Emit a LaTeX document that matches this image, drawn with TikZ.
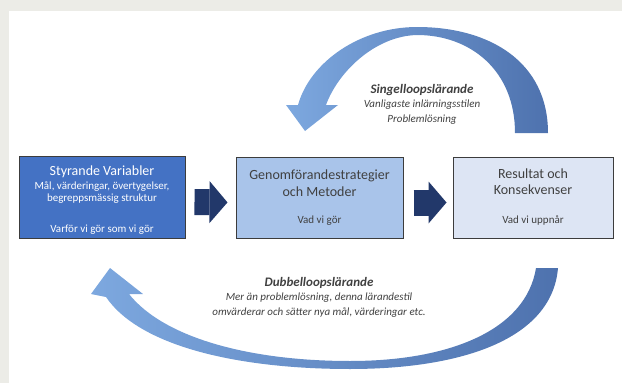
\documentclass[tikz,border=0pt]{standalone}
\usepackage{fontspec}
\setmainfont{Carlito}
\usetikzlibrary{arrows.meta}

\definecolor{frameGrey}{RGB}{236,236,231}
\definecolor{varBlue}{RGB}{68,114,196}
\definecolor{metBlue}{RGB}{169,196,234}
\definecolor{resBlue}{RGB}{221,229,244}
\definecolor{navy}{RGB}{34,56,106}
\definecolor{loopLight}{RGB}{125,168,223}
\definecolor{loopDark}{RGB}{78,114,174}
\definecolor{txtGrey}{RGB}{64,64,64}
\definecolor{edgeGrey}{RGB}{60,60,60}

\newcommand\boxtitle{\fontsize{14}{16}\selectfont}
\newcommand\boxsub{\fontsize{11}{12}\selectfont}
\newcommand\loopfont{\fontsize{11}{14.5}\selectfont\itshape}
\newcommand\loophead{\fontsize{13}{14.5}\selectfont\bfseries\itshape}

\begin{document}
\begin{tikzpicture}[x=1pt,y=-1pt,
  stage/.style={draw=edgeGrey, line width=1pt, rectangle, inner sep=0pt, align=center, font=\boxsub, text=txtGrey},
  blockarrow/.style={navy, line width=26pt, -{Triangle[length=18pt,width=42pt,line width=0pt]}},
  looptext/.style={align=center, font=\loopfont, text=txtGrey, inner sep=0pt}]

\useasboundingbox (0,0) rectangle (622,383);
\fill[frameGrey] (0,0) rectangle (622,11);
\fill[frameGrey] (0,0) rectangle (9,383);

\shade[left color=loopLight, right color=loopDark]
  (548,133) .. controls (548,62) and (490,27) .. (417,27)
  .. controls (360,27) and (310,62) .. (298,105)
  -- (286,105) -- (305,131) -- (338,105) -- (326,105)
  .. controls (338,72) and (375,36) .. (417,35)
  .. controls (470,35) and (515,70) .. (515,133) -- cycle;

\shade[left color=loopLight, right color=loopDark]
  (536,268) -- (558,268)
  .. controls (552,340) and (460,369) .. (350,369)
  .. controls (240,369) and (140,347) .. (106,297)
  -- (91,294) -- (110,268) -- (143,294) -- (129,294)
  .. controls (164,338) and (250,361) .. (350,361)
  .. controls (450,361) and (526,330) .. (536,268) -- cycle;

\node[stage, fill=varBlue, text=white, minimum width=166pt, minimum height=82pt] (Var) at (102,197)
  {{\boxtitle\rule{0pt}{15pt}Styrande Variabler}\\[2pt] Mål, värderingar, övertygelser,\\ begreppsmässig struktur\\[19pt] Varför vi gör som vi gör};
\node[stage, fill=metBlue, minimum width=167pt, minimum height=81pt] (Met) at (319.5,197.5)
  {{\boxtitle Genomförandestrategier}\\[4pt] {\boxtitle och Metoder}\\[15pt] Vad vi gör};
\node[stage, fill=resBlue, minimum width=160pt, minimum height=81pt] (Res) at (533,197.5)
  {{\boxtitle Resultat och}\\[4pt] {\boxtitle Konsekvenser}\\[17pt] Vad vi uppnår};

\draw[blockarrow, shorten <=9pt, shorten >=8pt] ([yshift=-5pt]Var.east) -- ([yshift=-5pt]Met.west);
\draw[blockarrow, shorten <=10pt, shorten >=6pt] ([yshift=-5pt]Met.east) -- ([yshift=-5pt]Res.west);

\node[looptext] (Singel) at (422,104)
  {{\loophead Singelloopslärande}\\ Vanligaste inlärningsstilen\\ Problemlösning};
\node[looptext] (Dubbel) at (319,297)
  {{\loophead Dubbelloopslärande}\\ Mer än problemlösning, denna lärandestil\\ omvärderar och sätter nya mål, värderingar etc.};

\end{tikzpicture}
\end{document}
